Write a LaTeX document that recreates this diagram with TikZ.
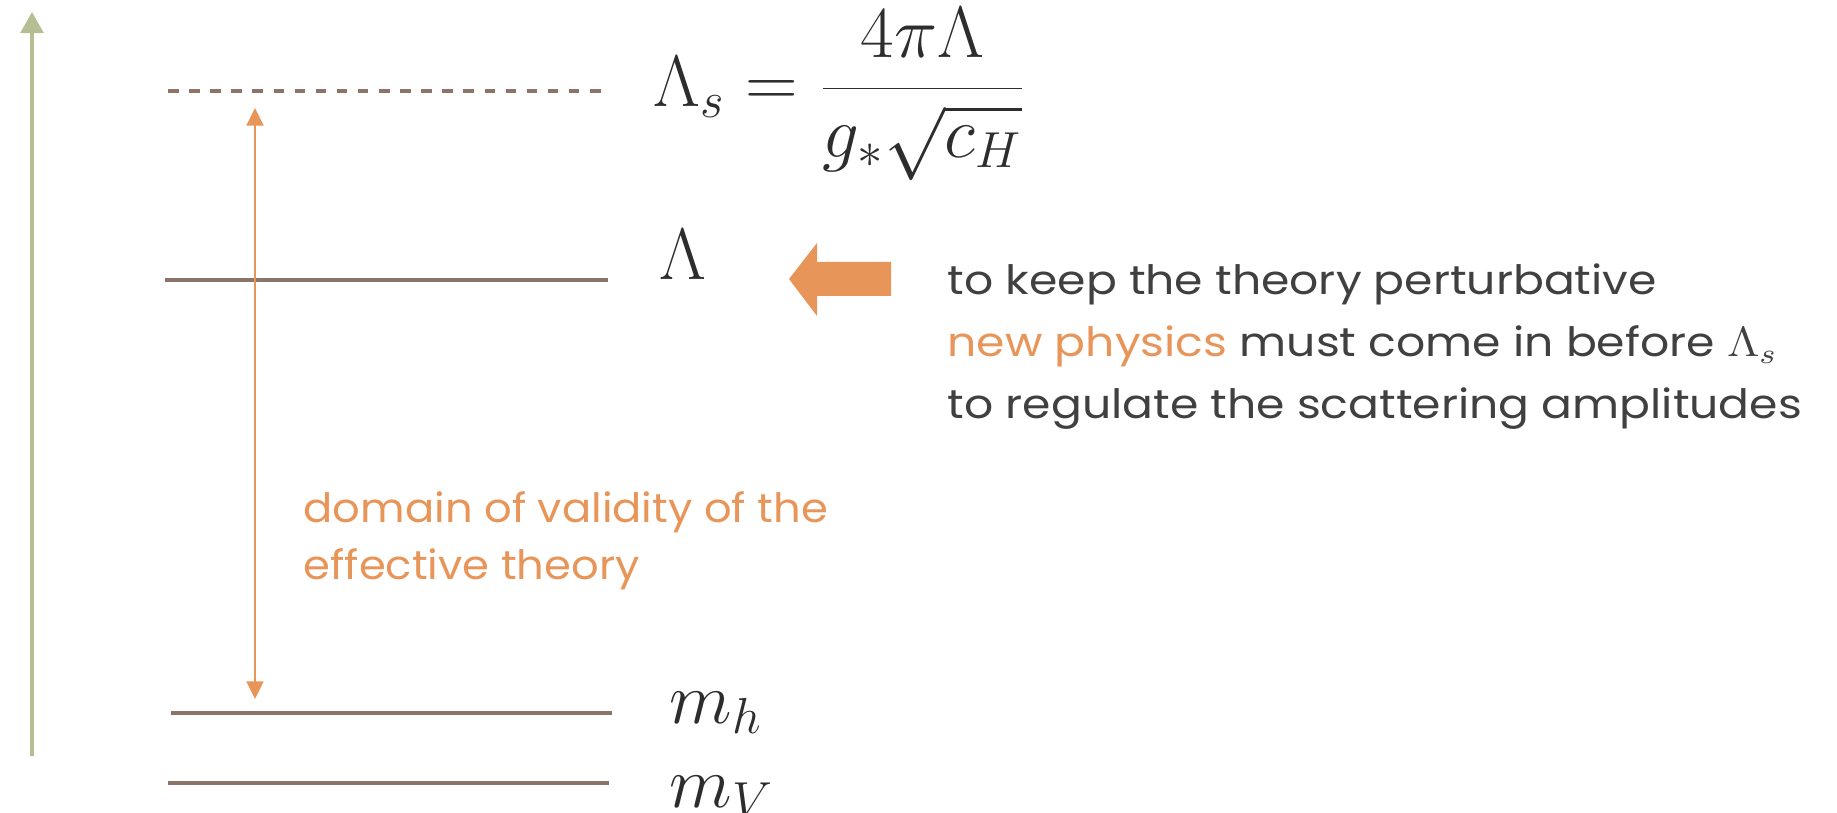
\documentclass[tikz,border=0pt]{standalone}
\usepackage{fontspec}
\usepackage{graphicx}
\setsansfont{Poppins}
\usetikzlibrary{arrows.meta}
\definecolor{scalegreen}{RGB}{181,189,146}
\definecolor{levelbrown}{RGB}{140,116,104}
\definecolor{hintorange}{RGB}{232,149,90}
\definecolor{notegray}{RGB}{64,64,64}
\definecolor{mathgray}{RGB}{45,45,45}
% the slide text runs a little wider than Poppins
\newcommand{\remarkwide}[1]{\scalebox{1.13}[1]{#1}}
\newcommand{\domainwide}[1]{\scalebox{1.07}[1]{#1}}
\begin{document}
\begin{tikzpicture}[
		x=0.01cm, y=-0.01cm,
		level/.style={draw=levelbrown, line width=1.4pt},
		lbl/.style={font=\fontsize{21}{25}\selectfont, text=mathgray, anchor=base west, inner sep=0pt},
		note/.style={font=\sffamily\fontsize{11.5}{17}\selectfont, text=notegray, anchor=base west, inner sep=0pt}
	]
	\useasboundingbox (0,0) rectangle (1837,813);
	\clip (0,0) rectangle (1837,813);

	% energy axis
	\coordinate (axisfoot) at (32,756);
	\coordinate (axistip) at (32,12);
	\draw[-{Triangle[length=6pt,width=6.5pt]}, draw=scalegreen, fill=scalegreen, line width=0.9pt] (axisfoot) -- (axistip);

	% levels
	\draw[level, dash pattern=on 3pt off 3pt] (168,91) coordinate (lsl) -- (606,91) coordinate (lsr);
	\draw[level] (165,280) coordinate (lal) -- (608,280) coordinate (lar);
	\draw[level] (171,713) coordinate (mhl) -- (612,713) coordinate (mhr);
	\draw[level] (168,783) coordinate (mvl) -- (609,783) coordinate (mvr);

	\node[lbl] (scut) at (653,107) {$\displaystyle \Lambda_s = \frac{4\pi\Lambda}{g_*\sqrt{c_H}}$};
	\node[lbl] (cut) at (659,280) {$\Lambda$};
	\node[lbl] (mh) at (669,723) {$m_h$};
	\node[lbl] (mv) at (669,807) {$m_V$};

	% domain of validity
	\coordinate (validtop) at (255,108);
	\coordinate (validbot) at (255,699);
	\draw[{Triangle[length=5pt,width=4.8pt]}-{Triangle[length=5pt,width=4.8pt]}, draw=hintorange, fill=hintorange, line width=0.7pt] (validtop) -- (validbot);
	\node[note, text=hintorange] (dom1) at (303,523) {\domainwide{domain of validity of the}};
	\node[note, text=hintorange] (dom2) at (303,580) {\domainwide{effective theory}};

	% push arrow and remark
	\fill[hintorange] (789,279) -- (817,243) -- (817,262) -- (891,262) -- (891,296) -- (817,296) -- (817,316) -- cycle;
	\node[note] (rem1) at (947,295) {\remarkwide{to keep the theory perturbative}};
	\node[note] (rem2) at (947,357) {\remarkwide{{\color{hintorange}new physics} must come in before $\Lambda_s$}};
	\node[note] (rem3) at (947,419) {\remarkwide{to regulate the scattering amplitudes}};

\end{tikzpicture}
\end{document}
